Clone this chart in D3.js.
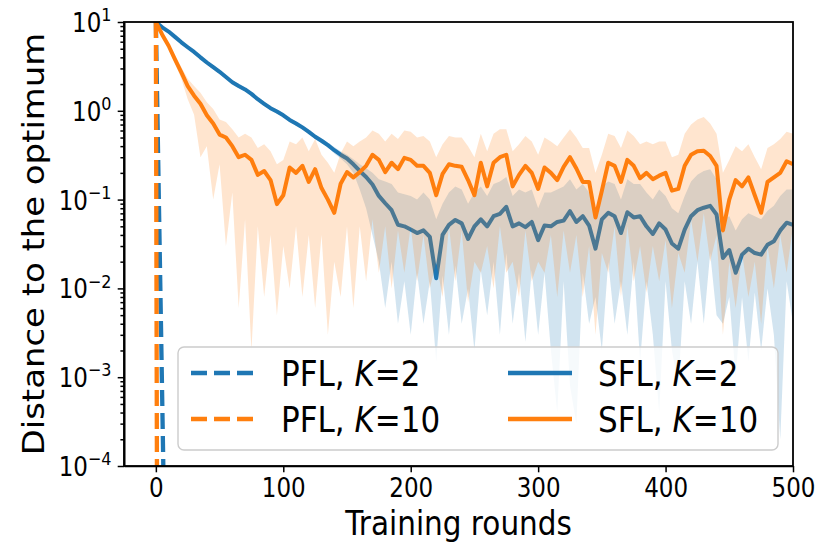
<!DOCTYPE html>
<html>
<head>
<meta charset="utf-8">
<script src="https://cdn.jsdelivr.net/npm/d3@7"></script>
<style>
  body { margin: 0; background: #fff; }
  text { font-family: "DejaVu Sans", sans-serif; }
</style>
</head>
<body>
<div id="chart"></div>
<script>
// rounds sampled every 5 training rounds
var rounds = d3.range(0, 501, 5);

// SFL, K=2 (mean, lower / upper band)
var sflK2 = [10, 8.7, 7.8, 6.8, 5.9, 5.2, 4.6, 4.0, 3.5, 3.1,
  2.75, 2.4, 2.1, 1.9, 1.74, 1.55, 1.35, 1.2, 1.07, 0.98,
  0.89, 0.79, 0.72, 0.65, 0.58, 0.51, 0.46, 0.41, 0.36, 0.32,
  0.29, 0.25, 0.21, 0.18, 0.148, 0.11, 0.091, 0.076, 0.052, 0.050,
  0.046, 0.042, 0.045, 0.038, 0.013, 0.040, 0.052, 0.059, 0.054, 0.036,
  0.050, 0.060, 0.050, 0.065, 0.069, 0.083, 0.050, 0.054, 0.049, 0.056,
  0.035, 0.051, 0.050, 0.056, 0.058, 0.074, 0.056, 0.065, 0.051, 0.028,
  0.060, 0.071, 0.065, 0.042, 0.072, 0.063, 0.065, 0.050, 0.041, 0.054,
  0.046, 0.032, 0.028, 0.046, 0.065, 0.076, 0.081, 0.085, 0.068, 0.022,
  0.027, 0.015, 0.024, 0.028, 0.025, 0.024, 0.031, 0.034, 0.045, 0.055,
  0.052];
var sflK2Lo = [10, 8.4, 7.5, 6.5, 5.6, 4.95, 4.4, 3.8, 3.35, 2.95,
  2.6, 2.3, 2.0, 1.8, 1.66, 1.47, 1.28, 1.14, 1.02, 0.93,
  0.85, 0.75, 0.68, 0.62, 0.55, 0.48, 0.43, 0.39, 0.33, 0.29,
  0.25, 0.2, 0.13, 0.08, 0.04, 0.02, 0.006, 0.02, 0.004, 0.012,
  0.003, 0.015, 0.004, 0.012, 0.0015, 0.014, 0.003, 0.018, 0.004, 0.01,
  0.002, 0.016, 0.005, 0.02, 0.003, 0.025, 0.004, 0.015, 0.0025, 0.016,
  0.003, 0.015, 0.002, 0.0004, 0.012, 0.0008, 0.0003, 0.015, 0.004, 0.008,
  0.002, 0.02, 0.004, 0.012, 0.003, 0.02, 0.0015, 0.012, 0.003, 0.0004,
  0.012, 0.002, 0.0008, 0.012, 0.004, 0.02, 0.004, 0.025, 0.005, 0.004,
  0.008, 0.001, 0.008, 0.0015, 0.009, 0.002, 0.01, 0.003, 0.0002, 0.012,
  0.004];
var sflK2Hi = [10, 9.0, 8.1, 7.1, 6.2, 5.5, 4.8, 4.2, 3.7, 3.25,
  2.9, 2.5, 2.2, 2.0, 1.82, 1.63, 1.42, 1.26, 1.12, 1.03,
  0.93, 0.83, 0.76, 0.68, 0.61, 0.54, 0.49, 0.44, 0.39, 0.35,
  0.32, 0.285, 0.25, 0.225, 0.2, 0.17, 0.16, 0.15, 0.12, 0.115,
  0.11, 0.10, 0.12, 0.10, 0.06, 0.09, 0.12, 0.14, 0.13, 0.09,
  0.12, 0.14, 0.11, 0.15, 0.16, 0.18, 0.11, 0.13, 0.12, 0.13,
  0.08, 0.12, 0.12, 0.13, 0.14, 0.17, 0.13, 0.15, 0.12, 0.07,
  0.14, 0.16, 0.15, 0.10, 0.17, 0.15, 0.15, 0.12, 0.10, 0.13,
  0.11, 0.08, 0.07, 0.11, 0.16, 0.19, 0.21, 0.22, 0.17, 0.06,
  0.065, 0.045, 0.06, 0.07, 0.065, 0.06, 0.075, 0.085, 0.11, 0.13,
  0.13];

// SFL, K=10 (mean, lower / upper band)
var sflK10 = [10, 7.2, 5.4, 3.8, 2.7, 1.9, 1.48, 1.2, 0.89, 0.72,
  0.54, 0.50, 0.40, 0.30, 0.32, 0.28, 0.19, 0.21, 0.166, 0.089,
  0.112, 0.23, 0.20, 0.24, 0.158, 0.22, 0.135, 0.10, 0.071, 0.151,
  0.204, 0.178, 0.204, 0.24, 0.32, 0.28, 0.204, 0.26, 0.22, 0.295,
  0.28, 0.24, 0.24, 0.20, 0.112, 0.195, 0.25, 0.24, 0.234, 0.166,
  0.112, 0.26, 0.141, 0.26, 0.30, 0.32, 0.141, 0.19, 0.24, 0.20,
  0.132, 0.23, 0.20, 0.166, 0.234, 0.30, 0.224, 0.158, 0.158, 0.063,
  0.126, 0.26, 0.24, 0.158, 0.28, 0.24, 0.174, 0.20, 0.17, 0.186,
  0.20, 0.126, 0.132, 0.24, 0.32, 0.35, 0.355, 0.31, 0.24, 0.045,
  0.10, 0.166, 0.141, 0.178, 0.112, 0.071, 0.158, 0.178, 0.20, 0.27,
  0.25];
var sflK10Lo = [10, 7.0, 5.0, 3.4, 2.3, 1.35, 0.9, 0.3, 0.4, 0.1,
  0.25, 0.03, 0.12, 0.006, 0.06, 0.002, 0.05, 0.008, 0.04, 0.005,
  0.03, 0.01, 0.05, 0.008, 0.04, 0.006, 0.04, 0.003, 0.02, 0.008,
  0.05, 0.006, 0.05, 0.012, 0.06, 0.015, 0.05, 0.01, 0.045, 0.015,
  0.05, 0.012, 0.04, 0.01, 0.02, 0.008, 0.05, 0.012, 0.045, 0.007,
  0.02, 0.015, 0.03, 0.01, 0.05, 0.015, 0.02, 0.008, 0.045, 0.012,
  0.02, 0.015, 0.04, 0.008, 0.045, 0.015, 0.04, 0.008, 0.03, 0.003,
  0.025, 0.015, 0.05, 0.008, 0.05, 0.012, 0.03, 0.009, 0.03, 0.012,
  0.035, 0.006, 0.025, 0.015, 0.06, 0.02, 0.07, 0.02, 0.04, 0.003,
  0.02, 0.006, 0.025, 0.008, 0.02, 0.004, 0.03, 0.01, 0.04, 0.015,
  0.05];
var sflK10Hi = [10, 7.6, 5.8, 4.2, 3.1, 2.3, 1.9, 1.6, 1.25, 1.05,
  0.8, 0.75, 0.62, 0.5, 0.55, 0.5, 0.38, 0.42, 0.35, 0.25,
  0.28, 0.45, 0.42, 0.5, 0.35, 0.48, 0.32, 0.26, 0.2, 0.33,
  0.45, 0.4, 0.45, 0.5, 0.6, 0.55, 0.45, 0.55, 0.48, 0.6,
  0.58, 0.5, 0.52, 0.45, 0.3, 0.42, 0.52, 0.5, 0.5, 0.4,
  0.3, 0.55, 0.35, 0.55, 0.62, 0.62, 0.35, 0.42, 0.52, 0.45,
  0.32, 0.5, 0.45, 0.4, 0.5, 0.62, 0.5, 0.38, 0.38, 0.2,
  0.32, 0.55, 0.52, 0.38, 0.6, 0.52, 0.42, 0.45, 0.42, 0.45,
  0.45, 0.3, 0.32, 0.55, 0.7, 0.8, 0.85, 0.72, 0.55, 0.2,
  0.28, 0.4, 0.35, 0.42, 0.3, 0.22, 0.38, 0.42, 0.48, 0.58,
  0.55];

// PFL runs collapse in the first few rounds
var pflK2Rounds = [0, 1, 2, 3, 4, 5, 6];
var pflK2 = [10, 1.4, 0.2, 0.028, 0.004, 0.00055, 0.000075];
var pflK10Rounds = [0, 1];
var pflK10 = [10, 0.00001];

// axis ticks
var xTicks = [0, 100, 200, 300, 400, 500];
var yTicks = [1e-4, 1e-3, 1e-2, 1e-1, 1, 10];
var yTickExp = ["\u22124", "\u22123", "\u22122", "\u22121", "0", "1"];

var blue = "#1f77b4", orange = "#ff7f0e";
var stretch = 1.13; // the picture is a bit taller than wide in its glyphs

var width = 831, height = 557;
var margin = {top: 22, right: 38, bottom: 91, left: 124};
var w = width - margin.left - margin.right;
var h = height - margin.top - margin.bottom;

var svg = d3.select("#chart").append("svg")
  .attr("width", width)
  .attr("height", height);

var x = d3.scaleLinear().domain([-25, 500]).range([0, w]);
var y = d3.scaleLog().domain([1e-4, 10]).range([h, 0]);

svg.append("defs").append("clipPath").attr("id", "clip")
  .append("rect").attr("width", w).attr("height", h);

var g = svg.append("g").attr("transform", "translate(" + margin.left + "," + margin.top + ")");
var plot = g.append("g").attr("clip-path", "url(#clip)");

var line = d3.line()
  .x(function(d) { return x(d[0]); })
  .y(function(d) { return y(d[1]); });

var area = d3.area()
  .x(function(d) { return x(d[0]); })
  .y0(function(d) { return y(d[1]); })
  .y1(function(d) { return y(d[2]); });

function zip2(xs, ys) { return xs.map(function(v, i) { return [v, ys[i]]; }); }
function zip3(xs, lo, hi) { return xs.map(function(v, i) { return [v, lo[i], hi[i]]; }); }

// PFL dashed lines
plot.append("path")
  .attr("d", line(zip2(pflK2Rounds, pflK2)))
  .attr("fill", "none").attr("stroke", blue)
  .attr("stroke-width", 4.3).attr("stroke-dasharray", "16,7");
plot.append("path")
  .attr("d", line(zip2(pflK10Rounds, pflK10)))
  .attr("fill", "none").attr("stroke", orange)
  .attr("stroke-width", 4.3).attr("stroke-dasharray", "16,7");

// SFL K=2
plot.append("path")
  .attr("d", line(zip2(rounds, sflK2)))
  .attr("fill", "none").attr("stroke", blue)
  .attr("stroke-width", 4).attr("stroke-linejoin", "round");
plot.append("path")
  .attr("d", area(zip3(rounds, sflK2Lo, sflK2Hi)))
  .attr("fill", blue).attr("fill-opacity", 0.2);

// SFL K=10
plot.append("path")
  .attr("d", line(zip2(rounds, sflK10)))
  .attr("fill", "none").attr("stroke", orange)
  .attr("stroke-width", 4).attr("stroke-linejoin", "round");
plot.append("path")
  .attr("d", area(zip3(rounds, sflK10Lo, sflK10Hi)))
  .attr("fill", orange).attr("fill-opacity", 0.2);

// x axis
var xAxis = g.append("g")
  .attr("transform", "translate(0," + h + ")")
  .call(d3.axisBottom(x).tickValues(xTicks).tickSize(6.3).tickSizeOuter(0));
xAxis.selectAll(".tick text")
  .attr("font-size", 23).attr("fill", "#000")
  .attr("y", 0).attr("dy", 0)
  .attr("transform", "translate(0,31) scale(1," + stretch + ")");

// y axis, minor ticks
var minorTicks = [];
yTicks.slice(0, -1).forEach(function(t) {
  for (var k = 2; k <= 9; k++) minorTicks.push(t * k);
});
g.append("g")
  .call(d3.axisLeft(y).tickValues(minorTicks).tickSize(3.6).tickFormat("").tickSizeOuter(0));

var yAxis = g.append("g")
  .call(d3.axisLeft(y).tickValues(yTicks).tickSize(6.3).tickFormat("").tickSizeOuter(0));
yAxis.selectAll(".tick text").each(function(d, i) {
  var t = d3.select(this).attr("font-size", 23).attr("fill", "#000")
    .attr("x", 0).attr("dy", 0)
    .attr("transform", "translate(-12.5,9.5) scale(1," + stretch + ")");
  t.append("tspan").text("10");
  t.append("tspan").attr("font-size", 16).attr("dy", "-0.6em").text(yTickExp[i]);
});

g.selectAll(".domain").attr("stroke-width", 1.6);
g.selectAll(".tick line").attr("stroke-width", 1.5);

// frame
g.append("rect")
  .attr("width", w).attr("height", h)
  .attr("fill", "none").attr("stroke", "#000").attr("stroke-width", 1.8);

// axis titles
g.append("text")
  .attr("transform", "translate(" + (w / 2) + "," + (h + 69) + ") scale(1," + stretch + ")")
  .attr("text-anchor", "middle").attr("font-size", 29.5)
  .text("Training rounds");

svg.append("text")
  .attr("transform", "translate(44," + (margin.top + h / 2) + ") rotate(-90) scale(" + stretch + ",1)")
  .attr("text-anchor", "middle").attr("font-size", 30)
  .text("Distance to the optimum");

// legend
var legendItems = [
  {name: "PFL", k: "2", color: blue, dash: "16,7", col: 0, row: 0},
  {name: "PFL", k: "10", color: orange, dash: "16,7", col: 0, row: 1},
  {name: "SFL", k: "2", color: blue, dash: null, col: 1, row: 0},
  {name: "SFL", k: "10", color: orange, dash: null, col: 1, row: 1}
];
var legend = g.append("g").attr("transform", "translate(" + (178 - margin.left) + "," + (347 - margin.top) + ")");
legend.append("rect")
  .attr("width", 600).attr("height", 103).attr("rx", 6)
  .attr("fill", "#fff").attr("fill-opacity", 0.8)
  .attr("stroke", "#cccccc").attr("stroke-width", 1.4);

var li = legend.selectAll(".item").data(legendItems).enter().append("g")
  .attr("transform", function(d) { return "translate(" + (13 + d.col * 317) + "," + (26 + d.row * 46) + ")"; });
li.append("line")
  .attr("x1", 0).attr("x2", 64)
  .attr("stroke", function(d) { return d.color; })
  .attr("stroke-width", 4.3)
  .attr("stroke-dasharray", function(d) { return d.dash; });
var lt = li.append("text")
  .attr("transform", "translate(90,12.5) scale(1," + stretch + ")")
  .attr("font-size", 31);
lt.append("tspan").text(function(d) { return d.name + ", "; });
lt.append("tspan").attr("font-style", "italic").text("K");
lt.append("tspan").text(function(d) { return "=" + d.k; });
</script>
</body>
</html>
